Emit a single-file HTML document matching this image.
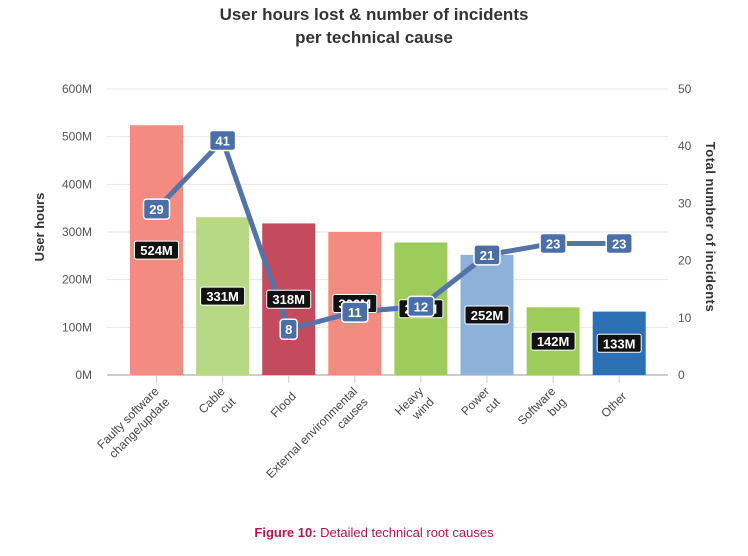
<!DOCTYPE html>
<html><head><meta charset="utf-8"><style>
body{margin:0;background:#fff;width:748px;height:551px;overflow:hidden;font-family:"Liberation Sans",Arial,sans-serif}
svg text{font-family:"Liberation Sans",Arial,sans-serif}
</style></head><body>
<svg id="c" width="748" height="551">
<text x="374" y="20" text-anchor="middle" font-size="17" font-weight="bold" fill="#333">User hours lost &amp; number of incidents</text>
<text x="374" y="43" text-anchor="middle" font-size="17" font-weight="bold" fill="#333">per technical cause</text>
<text transform="translate(44,227) rotate(-90)" text-anchor="middle" font-size="13" font-weight="bold" fill="#333">User hours</text>
<text transform="translate(706,227) rotate(90)" text-anchor="middle" font-size="13" font-weight="bold" fill="#333" letter-spacing="0.5">Total number of incidents</text>
<text x="374" y="537" text-anchor="middle" font-size="13" fill="#b0184a"><tspan font-weight="bold">Figure 10:</tspan> Detailed technical root causes</text>
<g id="grid"></g><g id="bars"></g><g id="line"></g><g id="labels"></g>
</svg>
<script>
const categories=[["Faulty software","change/update"],["Cable","cut"],["Flood"],["External environmental","causes"],["Heavy","wind"],["Power","cut"],["Software","bug"],["Other"]];
const hours=[524,331,318,300,278,252,142,133];
const incidents=[29,41,8,11,12,21,23,23];
const leftTicks=[0,100,200,300,400,500,600];
const rightTicks=[0,10,20,30,40,50];
const colors=["#f38b80","#b7d885","#c44b5e","#f38b80","#9dcc5b","#8eb1da","#9dcc5b","#2b6fb5"];
const NS="http://www.w3.org/2000/svg";
const X0=107,X1=668,Y0=375,Y1=89;
const yL=v=>Y0-(v/600)*(Y0-Y1);
const yR=v=>Y0-(v/50)*(Y0-Y1);
const xC=i=>156.5+i*66.1;
function mk(p,t,a){const e=document.createElementNS(NS,t);for(const k in a)e.setAttribute(k,a[k]);p.appendChild(e);return e;}
const g=document.getElementById('grid'),b=document.getElementById('bars'),l=document.getElementById('line'),lb=document.getElementById('labels');
leftTicks.forEach((v,i)=>{
 const ln=mk(g,'line',{x1:X0,x2:X1,y1:yL(v),y2:yL(v),stroke:i==0?'#ccc':'#e6e6e6','stroke-width':i==0?2:1});
 
 
 const t=mk(g,'text',{x:92,y:yL(v)+4,'text-anchor':'end','font-size':12,fill:'#555'});t.textContent=v+'M';
 
 
});
rightTicks.forEach(v=>{
 const t=mk(g,'text',{x:678,y:yR(v)+4,'text-anchor':'start','font-size':12,fill:'#555'});t.textContent=v;
 
 
});
hours.forEach((v,i)=>{
 const x=xC(i);
 const r=mk(b,'rect',{x:x-26.5,y:yL(v),width:53,height:Y0-yL(v),fill:colors[i]});
 
 
 const tk=mk(g,'line',{x1:x,x2:x,y1:Y0,y2:Y0+8,stroke:'#ccc'});
 
 
 const lines=categories[i];
 const tt=mk(g,'text',{transform:`translate(${x+8},${Y0+22}) rotate(-45)`,'text-anchor':'end','font-size':12,fill:'#444'});
 
 
 lines.forEach((s,j)=>{const sp=mk(tt,'tspan',{x:0,dy:j==0?(lines.length>1?-7:0):15});sp.textContent=s;});
 // bar value label
 const ly=(Y0+yL(v))/2;
 const lbl=v+'M';const w=lbl.length*9.5+6;
 const bx=mk(lb,'rect',{x:x-w/2,y:ly-9,width:w,height:18,rx:2,fill:'#111',stroke:'#fff','stroke-width':1});
 
 
 const t=mk(lb,'text',{x:x,y:ly+5,'text-anchor':'middle','font-size':13,'font-weight':'bold',fill:'#fff'});t.textContent=lbl;
 
 
});
const pts=incidents.map((v,i)=>xC(i)+','+yR(v)).join(' ');
const pl=mk(l,'polyline',{points:pts,fill:'none',stroke:'#5473a8','stroke-width':5,'stroke-linejoin':'round'});


const lg=document.createElementNS(NS,'g');document.getElementById('c').appendChild(lg);
incidents.forEach((v,i)=>{
 const x=xC(i),y=yR(v);const w=String(v).length*9+8;
 const r=mk(lg,'rect',{x:x-w/2,y:y-10,width:w,height:20,rx:3,fill:'#4a6ea8',stroke:'#fff','stroke-width':1.5});
 
 
 const t=mk(lg,'text',{x:x,y:y+5,'text-anchor':'middle','font-size':13,'font-weight':'bold',fill:'#fff'});t.textContent=v;
 
 
});
</script>
</body></html>
